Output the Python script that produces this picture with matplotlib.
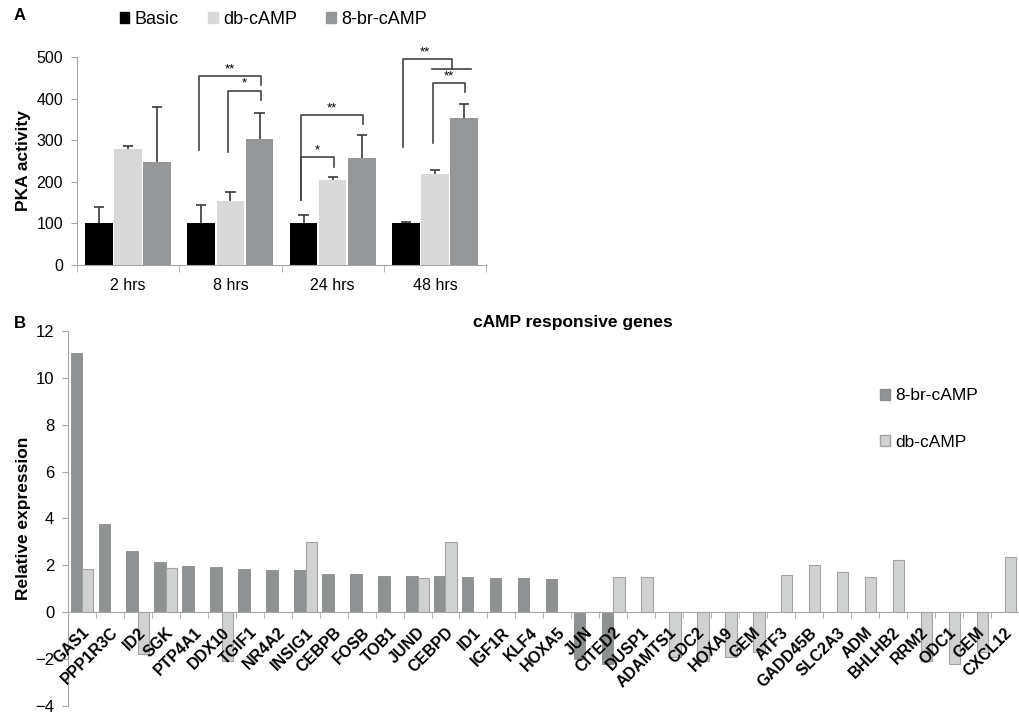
import numpy as np
import matplotlib
matplotlib.use("Agg")
import matplotlib.pyplot as plt
from matplotlib.patches import Patch

plt.rcParams["font.family"] = ["Liberation Sans", "DejaVu Sans"]

# ---- panel A data ----
timepoints = ["2 hrs", "8 hrs", "24 hrs", "48 hrs"]
pka_series = ["Basic", "db-cAMP", "8-br-cAMP"]
pka_basic = [100, 100, 100, 100]
pka_db = [278, 153, 205, 220]
pka_8br = [248, 302, 257, 354]
err_basic = [40, 45, 20, 3]
err_db = [7, 23, 7, 9]
err_8br = [133, 63, 55, 34]

# significance brackets: (timepoint, from series, to series, low_left, top, low_right, label)
sig_brackets = [
    (1, 0, 2, 276, 454, 433, "**"),
    (1, 1, 2, 272, 419, 397, "*"),
    (2, 0, 2, 156, 360, 339, "**"),
    (2, 0, 1, 156, 259, 236, "*"),
    (3, 1, 2, 293, 438, 416, "**"),
]

# ---- panel B data ----
genes = ["GAS1", "PPP1R3C", "ID2", "SGK", "PTP4A1", "DDX10", "TGIF1", "NR4A2",
         "INSIG1", "CEBPB", "FOSB", "TOB1", "JUND", "CEBPD", "ID1", "IGF1R",
         "KLF4", "HOXA5", "JUN", "CITED2", "DUSP1", "ADAMTS1", "CDC2", "HOXA9",
         "GEM", "ATF3", "GADD45B", "SLC2A3", "ADM", "BHLHB2", "RRM2", "ODC1",
         "GEM", "CXCL12"]
nan = np.nan
expr_8br = [11.05, 3.76, 2.63, 2.14, 1.97, 1.94, 1.86, 1.82,
            1.82, 1.65, 1.62, 1.54, 1.54, 1.54, 1.51, 1.46,
            1.45, 1.42, -2.0, -2.2, nan, nan, nan, nan,
            nan, nan, nan, nan, nan, nan, nan, nan,
            nan, nan]
expr_db = [1.83, nan, -1.8, 1.89, nan, -2.1, nan, nan,
           2.99, nan, nan, nan, 1.48, 3.0, nan, nan,
           nan, nan, nan, 1.52, 1.51, -1.9, -2.1, -1.9,
           -1.7, 1.58, 2.03, 1.73, 1.51, 2.21, -2.1, -2.2,
           -1.7, 2.35]

C_BASIC = "#000000"
C_DB = "#d9d9d9"
C_8BR = "#949697"
AXC = "#a6a6a6"

fig = plt.figure(figsize=(10.2, 7.13), dpi=100)

# ================= panel A =================
axA = fig.add_axes([0.0755, 0.6283, 0.401, 0.2917])
x = np.arange(len(timepoints))
w = 0.27
off = 0.285
offsets = [-off, 0, off]
vals = [pka_basic, pka_db, pka_8br]
errs = [err_basic, err_db, err_8br]
cols = [C_BASIC, C_DB, C_8BR]
EC = "#3a3a3a"
for i in range(3):
    xs = x + offsets[i]
    top = np.array(vals[i]) + np.array(errs[i])
    axA.bar(xs, vals[i], w, color=cols[i], label=pka_series[i], zorder=2)
    # upper error bar only, with cap
    axA.vlines(xs, vals[i], top, color=EC, lw=1.2, zorder=3)
    axA.hlines(top, xs - 0.05, xs + 0.05, color=EC, lw=1.2, zorder=3)

axA.set_xlim(-0.5, 3.5)
axA.set_ylim(0, 500)
axA.set_yticks(range(0, 501, 100))
axA.set_xticks(x)
axA.set_xticklabels(timepoints, fontsize=11.5)
axA.set_xticks(np.arange(-0.5, 4, 1), minor=True)
axA.tick_params(axis="x", which="major", length=0, pad=9)
axA.tick_params(axis="x", which="minor", length=5, color=AXC)
axA.tick_params(axis="y", labelsize=11.5, length=4, color=AXC, pad=6)
for s in ["top", "right"]:
    axA.spines[s].set_visible(False)
for s in ["left", "bottom"]:
    axA.spines[s].set_color(AXC)
axA.set_ylabel("PKA activity", fontsize=12.5, fontweight="bold", labelpad=4)

LC = "#444444"
for t, a, b, yl, yt, yr, lab in sig_brackets:
    xa = t + offsets[a] - 0.02
    xb = t + offsets[b] + 0.01
    axA.plot([xa, xa, xb, xb], [yl, yt, yt, yr], color=LC, lw=1.2, clip_on=False)
    axA.text((xa + xb) / 2, yt + 2, lab, ha="center", va="bottom", fontsize=9.5, clip_on=False)

# 48 hrs: Basic vs both treatments
xa = 3 + offsets[0] - 0.03
xm = 3 + 0.17
axA.plot([xa, xa, xm, xm], [284, 495, 495, 471], color=LC, lw=1.2, clip_on=False)
axA.plot([3 - 0.03, 3 + offsets[2] + 0.07], [471, 471], color=LC, lw=1.2, clip_on=False)
axA.text((xa + xm) / 2 - 0.03, 497, "**", ha="center", va="bottom", fontsize=9.5)

handlesA = [Patch(color=c) for c in cols]
fig.legend(handlesA, pka_series, loc="center", bbox_to_anchor=(0.268, 1 - 19 / 713),
           ncol=3, frameon=False, fontsize=13, handlelength=0.55, handleheight=0.55,
           handletextpad=0.3, columnspacing=1.6)
fig.text(14 / 1020, 1 - 16 / 713, "A", fontsize=12, fontweight="bold", va="center")

# ================= panel B =================
axB = fig.add_axes([0.0667, 0.0098, 0.932, 0.526])
axB.set_axisbelow(False)
xg = np.arange(len(genes))
wb = 0.41
axB.bar(xg - 0.205, expr_8br, wb, color="#8f9293", edgecolor="#8a8c8d",
        linewidth=0.6, label="8-br-cAMP", zorder=1)
axB.bar(xg + 0.205, expr_db, wb, color="#d0d1d1", edgecolor="#a3a3a3",
        linewidth=0.8, label="db-cAMP", zorder=1)

axB.set_xlim(-0.5, len(genes) - 0.5)
axB.set_ylim(-4, 12)
axB.set_yticks(range(-4, 13, 2))
axB.tick_params(axis="y", labelsize=12, length=4, color=AXC, pad=6)
axB.spines["bottom"].set_position(("data", 0))
axB.spines["bottom"].set_color(AXC)
axB.spines["left"].set_color(AXC)
for s in ["top", "right"]:
    axB.spines[s].set_visible(False)
axB.set_xticks(xg)
axB.set_xticklabels(genes, rotation=45, ha="right", rotation_mode="anchor",
                    fontsize=11.5, fontweight="bold")
axB.set_xticks(np.arange(-0.5, len(genes), 1), minor=True)
axB.tick_params(axis="x", which="major", length=0, pad=9)
axB.tick_params(axis="x", which="minor", length=4, color=AXC)
axB.set_ylabel("Relative expression", fontsize=12.5, fontweight="bold", labelpad=3)

fig.text(573 / 1020, 1 - 322 / 713, "cAMP responsive genes", ha="center", va="center",
         fontsize=12.5, fontweight="bold")
fig.text(14 / 1020, 1 - 323 / 713, "B", fontsize=12, fontweight="bold", va="center")

handlesB = [Patch(facecolor="#8f9293", edgecolor="#8a8c8d"),
            Patch(facecolor="#d0d1d1", edgecolor="#a3a3a3")]
fig.legend(handlesB, ["8-br-cAMP", "db-cAMP"], loc="center left",
           bbox_to_anchor=(864 / 1020, 1 - 419 / 713), frameon=False, fontsize=12.5,
           handlelength=0.6, handleheight=0.6, handletextpad=0.3, labelspacing=1.8)

fig.savefig("out.png", dpi=100)
